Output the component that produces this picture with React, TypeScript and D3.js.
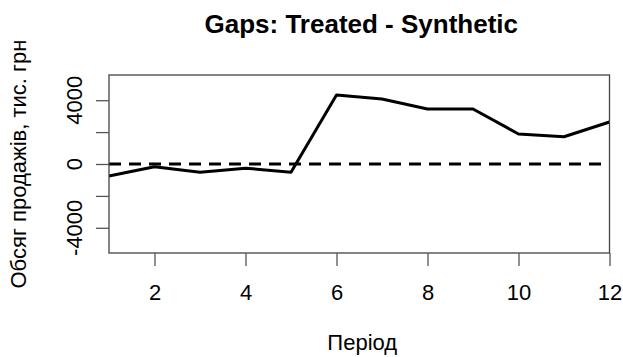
import React, { useEffect, useRef } from "react";
import * as d3 from "d3";

// period numbers and the gap values (treated - synthetic)
const periods = [1, 2, 3, 4, 5, 6, 7, 8, 9, 10, 11, 12];
const gaps = [-750, -170, -520, -260, -520, 4330, 4070, 3450, 3450, 1880, 1710, 2630];

const xTicks = [2, 4, 6, 8, 10, 12];
const yTicks = [-4000, -2000, 0, 2000, 4000];
const yLabelTicks = [-4000, 0, 4000];

const title = "Gaps: Treated - Synthetic";
const xTitle = "Період";
const yTitle = "Обсяг продажів, тис. грн";

export default function App() {
  const ref = useRef<SVGSVGElement | null>(null);

  useEffect(() => {
    const width = 623;
    const height = 357;
    const margin = { top: 75, right: 13.5, bottom: 104, left: 109 };

    const x = d3
      .scaleLinear()
      .domain([1, 12])
      .range([margin.left, width - margin.right]);

    const y = d3
      .scaleLinear()
      .domain([-5580, 5580])
      .range([height - margin.bottom, margin.top]);

    const svg = d3.select(ref.current);
    svg.selectAll("*").remove();

    const font = "'Liberation Sans', Arial, sans-serif";
    const fs = 22;

    // title
    svg
      .append("text")
      .attr("x", (x.range()[0] + x.range()[1]) / 2 + 2)
      .attr("y", 33)
      .attr("text-anchor", "middle")
      .attr("font-family", font)
      .attr("font-weight", "bold")
      .attr("font-size", 26)
      .text(title);

    // zero line
    svg
      .append("line")
      .attr("x1", x.range()[0])
      .attr("x2", x.range()[1])
      .attr("y1", y(0))
      .attr("y2", y(0))
      .attr("stroke", "#000")
      .attr("stroke-width", 3)
      .attr("stroke-dasharray", "12,8");

    // series
    const line = d3
      .line<number>()
      .x((d, i) => x(periods[i]))
      .y((d) => y(d));

    svg
      .append("path")
      .datum(gaps)
      .attr("fill", "none")
      .attr("stroke", "#000")
      .attr("stroke-width", 3)
      .attr("stroke-linejoin", "round")
      .attr("d", line);

    // box
    svg
      .append("rect")
      .attr("x", x.range()[0])
      .attr("y", y.range()[1])
      .attr("width", x.range()[1] - x.range()[0])
      .attr("height", y.range()[0] - y.range()[1])
      .attr("fill", "none")
      .attr("stroke", "#444")
      .attr("stroke-width", 1.3);

    // x axis
    const xAxis = svg
      .append("g")
      .attr("transform", `translate(0, ${y.range()[0]})`)
      .call(d3.axisBottom(x).tickValues(xTicks).tickSize(13).tickPadding(18).tickFormat(d3.format("d")));
    xAxis.select(".domain").remove();
    xAxis.selectAll("line").attr("stroke", "#555").attr("stroke-width", 1.3);
    xAxis
      .selectAll("text")
      .attr("font-family", font)
      .attr("font-size", fs)
      .attr("fill", "#000");

    // y axis
    const yAxis = svg
      .append("g")
      .attr("transform", `translate(${x.range()[0]}, 0)`)
      .call(d3.axisLeft(y).tickValues(yTicks).tickSize(13).tickFormat(() => ""));
    yAxis.select(".domain").remove();
    yAxis.selectAll("line").attr("stroke", "#555").attr("stroke-width", 1.3);

    svg
      .append("g")
      .selectAll("text")
      .data(yLabelTicks)
      .enter()
      .append("text")
      .attr("transform", (d) => `translate(82, ${y(d)}) rotate(-90)`)
      .attr("text-anchor", "middle")
      .attr("font-family", font)
      .attr("font-size", fs)
      .text((d) => String(d));

    // axis titles
    svg
      .append("text")
      .attr("x", (x.range()[0] + x.range()[1]) / 2 + 3)
      .attr("y", 350)
      .attr("text-anchor", "middle")
      .attr("font-family", font)
      .attr("font-size", fs)
      .text(xTitle);

    svg
      .append("text")
      .attr("transform", `translate(26, ${y(0)}) rotate(-90)`)
      .attr("text-anchor", "middle")
      .attr("font-family", font)
      .attr("font-size", fs)
      .text(yTitle);
  }, []);

  return (
    <svg
      ref={ref}
      width={623}
      height={357}
      style={{ position: "absolute", left: 0, top: 0, background: "#fff" }}
    />
  );
}
